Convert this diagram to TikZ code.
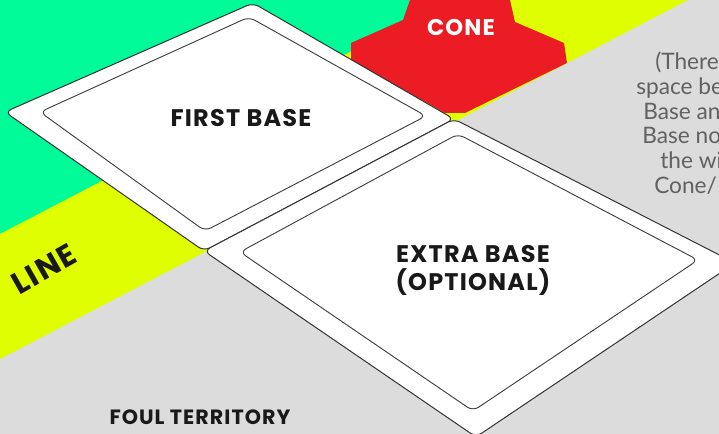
\documentclass[tikz,border=0pt]{standalone}
\usepackage{fontspec}
\setmainfont{Lato}
\newfontfamily\headfont[LetterSpace=5]{Poppins}
\tikzset{
  basepad/.style={fill=white,draw=black!80,line width=0.75pt,rounded corners=5pt},
  baseface/.style={draw=black!75,line width=0.7pt,rounded corners=5pt},
  head/.style={font=\headfont\fontsize{18pt}{21pt}\selectfont\bfseries,text=black!90,inner sep=0pt,align=center},
  note/.style={font=\fontsize{17pt}{20pt}\selectfont,text=black!62,inner sep=0pt,anchor=base west}
}
\definecolor{fair}{HTML}{00FB98}
\definecolor{linecol}{HTML}{DFFF00}
\definecolor{foul}{HTML}{DCDCDC}
\definecolor{conecol}{HTML}{EC1C24}
\begin{document}
\begin{tikzpicture}[x=0.75pt,y=-0.75pt]
\useasboundingbox (0,0) rectangle (719,434);
\clip (0,0) rectangle (719,434);
\fill[foul] (0,0) rectangle (719,434);
\fill[fair] (0,0) -- (510,0) -- (0,234) -- cycle;
\fill[linecol] (0,234) -- (450,0) -- (688,0) -- (0,359) -- cycle;
\fill[conecol] (410,0) -- (403,20) -- (351,43) -- (351,60) -- (445,113) -- (465,113) -- (567,63) -- (564,43) -- (515,22) -- (510,0) -- cycle;
% First base
\draw[basepad] (253,3) -- (454,119) -- (204,251) -- (5,112) -- cycle;
\draw[baseface] (249,17) -- (426,116) -- (205,231) -- (40,112) -- cycle;
% Extra base
\draw[basepad] (454,119) -- (735,263) -- (476,437) -- (204,251) -- cycle;
\draw[baseface] (458,134) -- (698,260) -- (473,411) -- (240,252) -- cycle;
\node[head] (first) at (241,118) {FIRST BASE};
\node[head] (extra) at (473,270.5) {EXTRA BASE\\(OPTIONAL)};
\node[head,text=white,font=\headfont\fontsize{17pt}{21pt}\selectfont\bfseries] (cone) at (461,28) {CONE};
\node[head,font=\headfont\fontsize{15.5pt}{18pt}\selectfont\bfseries] (foulname) at (200,417) {FOUL TERRITORY};
\node[head,rotate=29.5,font=\headfont\fontsize{23pt}{26pt}\selectfont\bfseries] (line) at (44,269) {LINE};
\node[note] (n1) at (655,70) {(There};
\node[note] (n2) at (636,95) {space be};
\node[note] (n3) at (643,120) {Base an};
\node[note] (n4) at (642,144) {Base no};
\node[note] (n5) at (660,169) {the wi};
\node[note] (n6) at (654,194) {Cone/};
\end{tikzpicture}
\end{document}
